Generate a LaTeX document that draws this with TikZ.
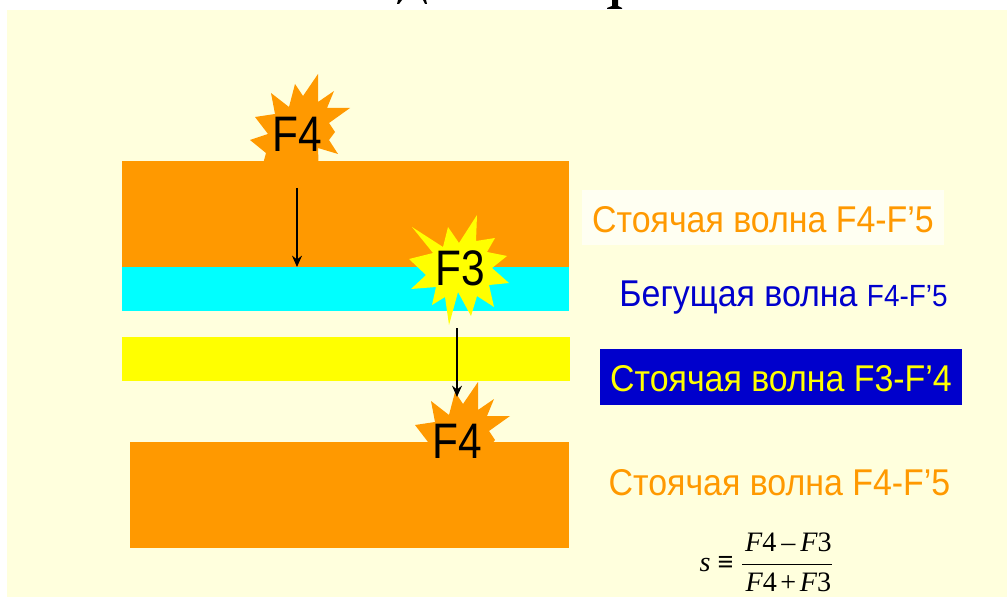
\documentclass[tikz,border=0pt]{standalone}
\usepackage{fontspec}
\setmainfont{Liberation Sans}
\newfontfamily\formulaFont{Liberation Serif}
\newfontfamily\burstFont[FakeStretch=0.85]{Liberation Sans}
\newfontfamily\waveFont[FakeStretch=0.91]{Liberation Sans}
\usetikzlibrary{arrows.meta}
\definecolor{paperColour}{HTML}{FFFFDD}
\definecolor{orangeColour}{HTML}{FF9900}
\definecolor{cyanColour}{HTML}{00FFFF}
\definecolor{yellowColour}{HTML}{FFFF00}
\definecolor{blueColour}{HTML}{0000CC}
\definecolor{glowColour}{HTML}{FFFFF2}
\tikzset{
    burstLabel/.style={font=\burstFont\fontsize{35.5}{40}\selectfont, text=black, inner sep=0pt},
    waveLabel/.style={font=\waveFont\fontsize{26.5}{30}\selectfont, inner sep=0pt, text height=21.4pt, text depth=0.4pt, minimum width=362*0.025cm, minimum height=55.5*0.025cm},
    waveArrow/.style={-{Stealth[length=8pt,width=7pt]}, line width=1.5pt, black}
}
\begin{document}
\begin{tikzpicture}[x=0.025cm, y=-0.025cm]
    \useasboundingbox (0,0) rectangle (1007,597);

    % Slide background
    \fill[paperColour] (7,10) rectangle (1007,597);

    % Feet of the cut-off heading
    \fill[black] (398,0) -- (402,0) -- (399,4) -- (397,4) -- cycle;
    \fill[black] (423,0) -- (426,0) -- (427,4) -- (425,4) -- cycle;
    \fill[black] (612,0) -- (618,0) -- (618,6) -- (622,8) -- (622,9) -- (607,9) -- (607,8) -- (612,6) -- cycle;

    % Bursts with eight long points
    \def\burstFour{(318,74) -- (318,102) -- (334,91) -- (327,108) -- (350,108) -- (329,123) -- (335,132) -- (329,140)
        -- (338,154) -- (318,148) -- (319,175) -- (260,175) -- (266,153) -- (250,140) -- (268,134) -- (255,117)
        -- (275,114) -- (271,93) -- (289,107) -- (295,84) -- (303,96) -- cycle}
    \fill[orangeColour] \burstFour;

    % Layers
    \fill[orangeColour] (122,161) rectangle (569,267);
    \fill[cyanColour] (122,267) rectangle (569,311);
    \fill[yellowColour] (122,337) rectangle (570,381);
    \fill[orangeColour] (130,442) rectangle (569,548);

    % Lower burst F4 is the upper one moved down
    \fill[orangeColour, shift={(160,308)}] \burstFour;

    % Burst F3
    \fill[yellowColour] (477,215) -- (476,241) -- (495,238) -- (487,252) -- (507,256) -- (492,268) -- (509,283)
        -- (489,285) -- (494,307) -- (477,296) -- (471,316) -- (458,292) -- (449,325) -- (445,297) -- (432,305)
        -- (436,287) -- (411,289) -- (426,275) -- (409,259) -- (433,253) -- (412,227) -- (443,247) -- (448,227)
        -- (459,243) -- cycle;

    \node[burstLabel] (topF) at (297,134) {F4};
    \node[burstLabel] (midF) at (460,268) {F3};
    \node[burstLabel] (lowF) at (457,441) {F4};

    % Arrows
    \coordinate (topStart) at (297,188);
    \coordinate (topEnd) at (297,267);
    \coordinate (lowStart) at (457,328);
    \coordinate (lowEnd) at (457,397);
    \draw[waveArrow] (topStart) -- (topEnd);
    \draw[waveArrow] (lowStart) -- (lowEnd);

    % Labels on the right
    \node[waveLabel, fill=glowColour, text=orangeColour] (standOne) at (763,217.5) {Стоячая волна F4-F’5};
    \node[inner sep=0pt, text=blueColour, font=\waveFont\fontsize{26.5}{30}\selectfont] (runLabel) at (783.5,298)
        {Бегущая волна {\fontsize{21.8}{24}\selectfont F4-F’5}};
    \node[waveLabel, fill=blueColour, text=yellowColour] (standTwo) at (781,377) {Стоячая волна F3-F’4};
    \node[waveLabel, text=orangeColour] (standThree) at (779.5,481) {Стоячая волна F4-F’5};

    % Detuning formula
    \node[inner sep=0pt, font=\formulaFont\fontsize{20}{24}\selectfont] (detuning) at (766.5,562.5)
        {\itshape s\kern5pt{\upshape\bfseries ≡}\kern5pt$\displaystyle\frac{\hbox{\kern2pt\itshape F\upshape 4\kern3.5pt–\kern3.5pt\itshape F\upshape 3}}{\hbox{\kern2pt\rule{0pt}{15pt}\itshape F\upshape 4\kern2.5pt+\kern2.5pt\itshape F\upshape 3}}$};
\end{tikzpicture}
\end{document}
